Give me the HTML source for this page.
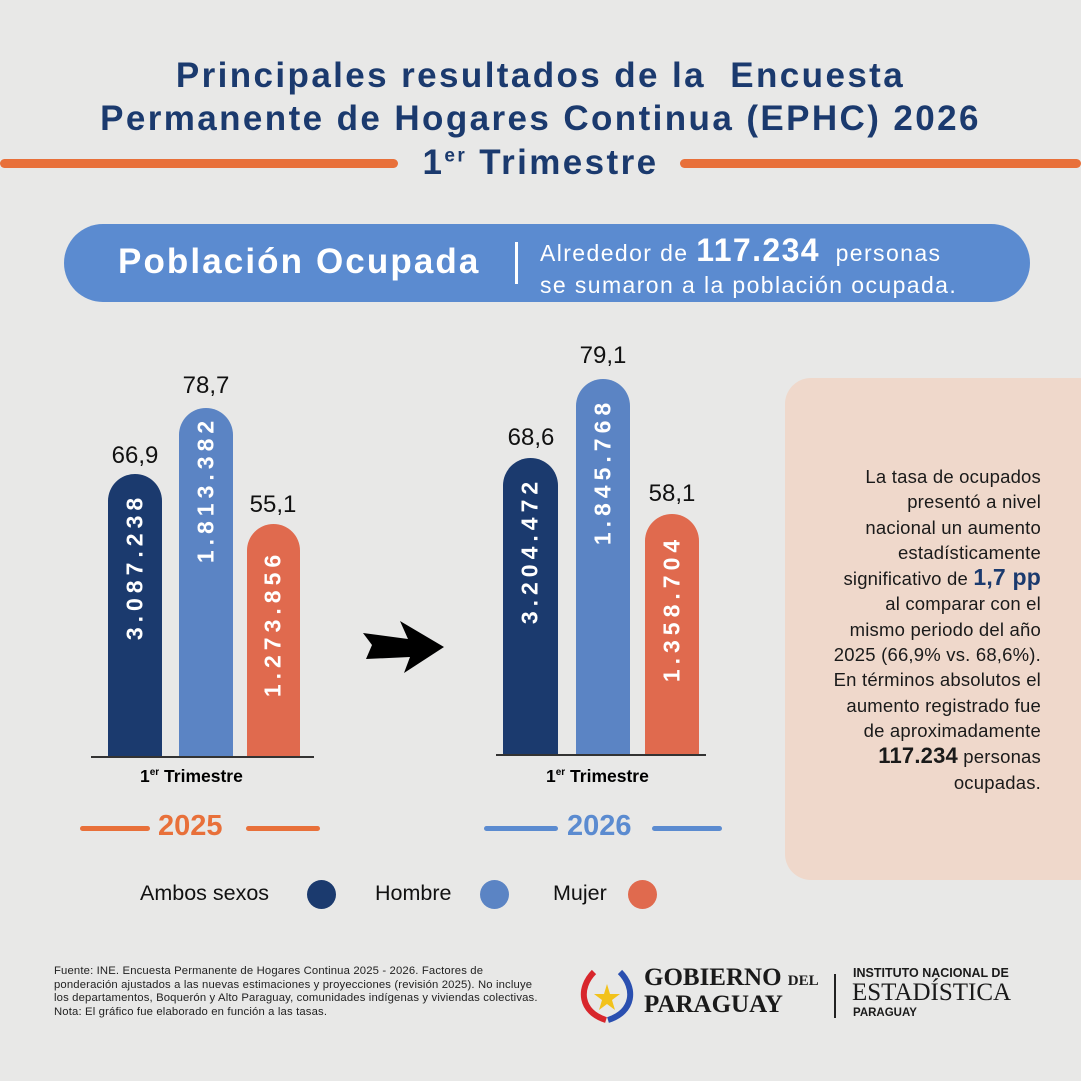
<!DOCTYPE html>
<html><head><meta charset="utf-8"><style>
*{margin:0;padding:0;box-sizing:border-box}
body{width:1081px;height:1081px;overflow:hidden;background:#e8e8e7;font-family:"Liberation Sans",sans-serif;position:relative}
.a{position:absolute}
.t{color:#1b3a6e;font-weight:bold;font-size:35px;text-align:center;width:1081px;left:0;letter-spacing:2.4px}
.bar{position:absolute;border-radius:28px 28px 0 0}
.v{position:absolute;font-size:24px;color:#111;text-align:center;width:80px}
.lab{position:absolute;color:#fff;font-weight:bold;font-size:23px;letter-spacing:5px;transform:rotate(-90deg);transform-origin:center;white-space:nowrap;width:220px;text-align:center}
.p{position:absolute;right:40px;text-align:right;font-size:18.5px;color:#1a1a1a;line-height:25.3px;top:464px;width:290px;letter-spacing:0.2px}
</style></head><body>
<div class="a t" style="top:56px">Principales resultados de la &nbsp;Encuesta</div>
<div class="a t" style="top:99px">Permanente de Hogares Continua (EPHC) 2026</div>
<div class="a t" style="top:143px">1<sup style="font-size:19px">er</sup> Trimestre</div>
<div class="a" style="left:0;top:159px;width:398px;height:9px;background:#e8703a;border-radius:5px"></div>
<div class="a" style="left:680px;top:159px;width:401px;height:9px;background:#e8703a;border-radius:5px"></div>

<div class="a" style="left:64px;top:224px;width:966px;height:78px;background:#5b8bd0;border-radius:39px"></div>
<div class="a" style="left:118px;top:242px;color:#fff;font-weight:bold;font-size:35px;letter-spacing:2.1px">Población Ocupada</div>
<div class="a" style="left:515px;top:242px;width:3px;height:42px;background:#fff"></div>
<div class="a" style="left:540px;top:234px;color:#fff;font-size:23px;line-height:32px;letter-spacing:1.4px">Alrededor de <b style="font-size:32px">117.234</b> &nbsp;personas<br>se sumaron a la población ocupada.</div>

<!-- 2025 -->
<div class="bar" style="left:108px;top:474px;width:54px;height:283px;background:#1b3a6e"></div>
<div class="bar" style="left:179px;top:408px;width:54px;height:349px;background:#5b84c4"></div>
<div class="bar" style="left:247px;top:524px;width:53px;height:233px;background:#e06a4e"></div>
<div class="lab" style="left:25px;top:553px">3.087.238</div>
<div class="lab" style="left:96px;top:476px">1.813.382</div>
<div class="lab" style="left:163px;top:610px">1.273.856</div>
<div class="v" style="left:95px;top:442px">66,9</div>
<div class="v" style="left:166px;top:372px">78,7</div>
<div class="v" style="left:233px;top:491px">55,1</div>
<div class="a" style="left:91px;top:756px;width:223px;height:2px;background:#333"></div>
<div class="a" style="left:140px;top:766px;font-weight:bold;font-size:17.5px">1<sup style="font-size:10px">er</sup> Trimestre</div>
<div class="a" style="left:80px;top:826px;width:70px;height:5px;background:#e8703a;border-radius:3px"></div>
<div class="a" style="left:246px;top:826px;width:74px;height:5px;background:#e8703a;border-radius:3px"></div>
<div class="a" style="left:158px;top:810px;font-weight:bold;font-size:29px;color:#e8703a">2025</div>

<!-- arrow -->
<svg class="a" style="left:358px;top:615px" width="90" height="60"><path d="M5 18 L50 24 L42 6 L86 32 L46 58 L52 42 L8 44 L14 30 Z" fill="#000"/></svg>

<!-- 2026 -->
<div class="bar" style="left:503px;top:458px;width:55px;height:297px;background:#1b3a6e"></div>
<div class="bar" style="left:576px;top:379px;width:54px;height:376px;background:#5b84c4"></div>
<div class="bar" style="left:645px;top:514px;width:54px;height:241px;background:#e06a4e"></div>
<div class="lab" style="left:420px;top:537px">3.204.472</div>
<div class="lab" style="left:493px;top:458px">1.845.768</div>
<div class="lab" style="left:562px;top:595px">1.358.704</div>
<div class="v" style="left:491px;top:424px">68,6</div>
<div class="v" style="left:563px;top:342px">79,1</div>
<div class="v" style="left:632px;top:480px">58,1</div>
<div class="a" style="left:496px;top:754px;width:210px;height:2px;background:#333"></div>
<div class="a" style="left:546px;top:766px;font-weight:bold;font-size:17.5px">1<sup style="font-size:10px">er</sup> Trimestre</div>
<div class="a" style="left:484px;top:826px;width:74px;height:5px;background:#5b8bd0;border-radius:3px"></div>
<div class="a" style="left:652px;top:826px;width:70px;height:5px;background:#5b8bd0;border-radius:3px"></div>
<div class="a" style="left:567px;top:810px;font-weight:bold;font-size:29px;color:#5b8bd0">2026</div>

<!-- panel -->
<div class="a" style="left:785px;top:378px;width:320px;height:502px;background:#efd8cb;border-radius:26px"></div>
<div class="p">La tasa de ocupados<br>presentó a nivel<br>nacional un aumento<br>estadísticamente<br>significativo de <b style="color:#1b3a6e;font-size:23px">1,7 pp</b><br>al comparar con el<br>mismo periodo del año<br>2025 (66,9% vs. 68,6%).<br>En términos absolutos el<br>aumento registrado fue<br>de aproximadamente<br><b style="font-size:22px">117.234</b> personas<br>ocupadas.</div>

<!-- legend -->
<div class="a" style="left:140px;top:881px;font-size:21.5px;color:#111">Ambos sexos</div>
<div class="a" style="left:307px;top:880px;width:29px;height:29px;border-radius:50%;background:#1b3a6e"></div>
<div class="a" style="left:375px;top:881px;font-size:21.5px;color:#111">Hombre</div>
<div class="a" style="left:480px;top:880px;width:29px;height:29px;border-radius:50%;background:#5b84c4"></div>
<div class="a" style="left:553px;top:881px;font-size:21.5px;color:#111">Mujer</div>
<div class="a" style="left:628px;top:880px;width:29px;height:29px;border-radius:50%;background:#e06a4e"></div>

<!-- footer -->
<div class="a" style="left:54px;top:965px;font-size:11.3px;line-height:13.5px;color:#222;width:495px;letter-spacing:0.15px">Fuente: INE. Encuesta Permanente de Hogares Continua 2025 - 2026. Factores de ponderación ajustados a las nuevas estimaciones y proyecciones (revisión 2025). No incluye los departamentos, Boquerón y Alto Paraguay, comunidades indígenas y viviendas colectivas.<br>Nota: El gráfico fue elaborado en función a las tasas.</div>
<svg class="a" style="left:576px;top:968px" width="62" height="58"><path d="M18 4 C2 20 4 44 30 52" stroke="#d8262c" stroke-width="6" fill="none"/><path d="M44 4 C60 20 58 44 32 52" stroke="#2a4fb0" stroke-width="6" fill="none"/><polygon points="31,16 34,26 44,26 36,32 39,42 31,36 23,42 26,32 18,26 28,26" fill="#f2c21b"/></svg>
<div class="a" style="left:644px;top:966px;font-family:'Liberation Serif',serif;font-weight:bold;font-size:25px;line-height:24px;color:#1a1a1a">GOBIERNO <span style="font-size:15px">DEL</span><br>PARAGUAY</div>
<div class="a" style="left:834px;top:974px;width:2px;height:44px;background:#222"></div>
<div class="a" style="left:853px;top:966px;font-weight:bold;font-size:12.5px;color:#1a1a1a">INSTITUTO NACIONAL DE</div>
<div class="a" style="left:852px;top:979px;font-family:'Liberation Serif',serif;font-size:25px;color:#1a1a1a">ESTADÍSTICA</div>
<div class="a" style="left:853px;top:1007px;font-weight:bold;font-size:11.5px;color:#1a1a1a">PARAGUAY</div>
</body></html>
